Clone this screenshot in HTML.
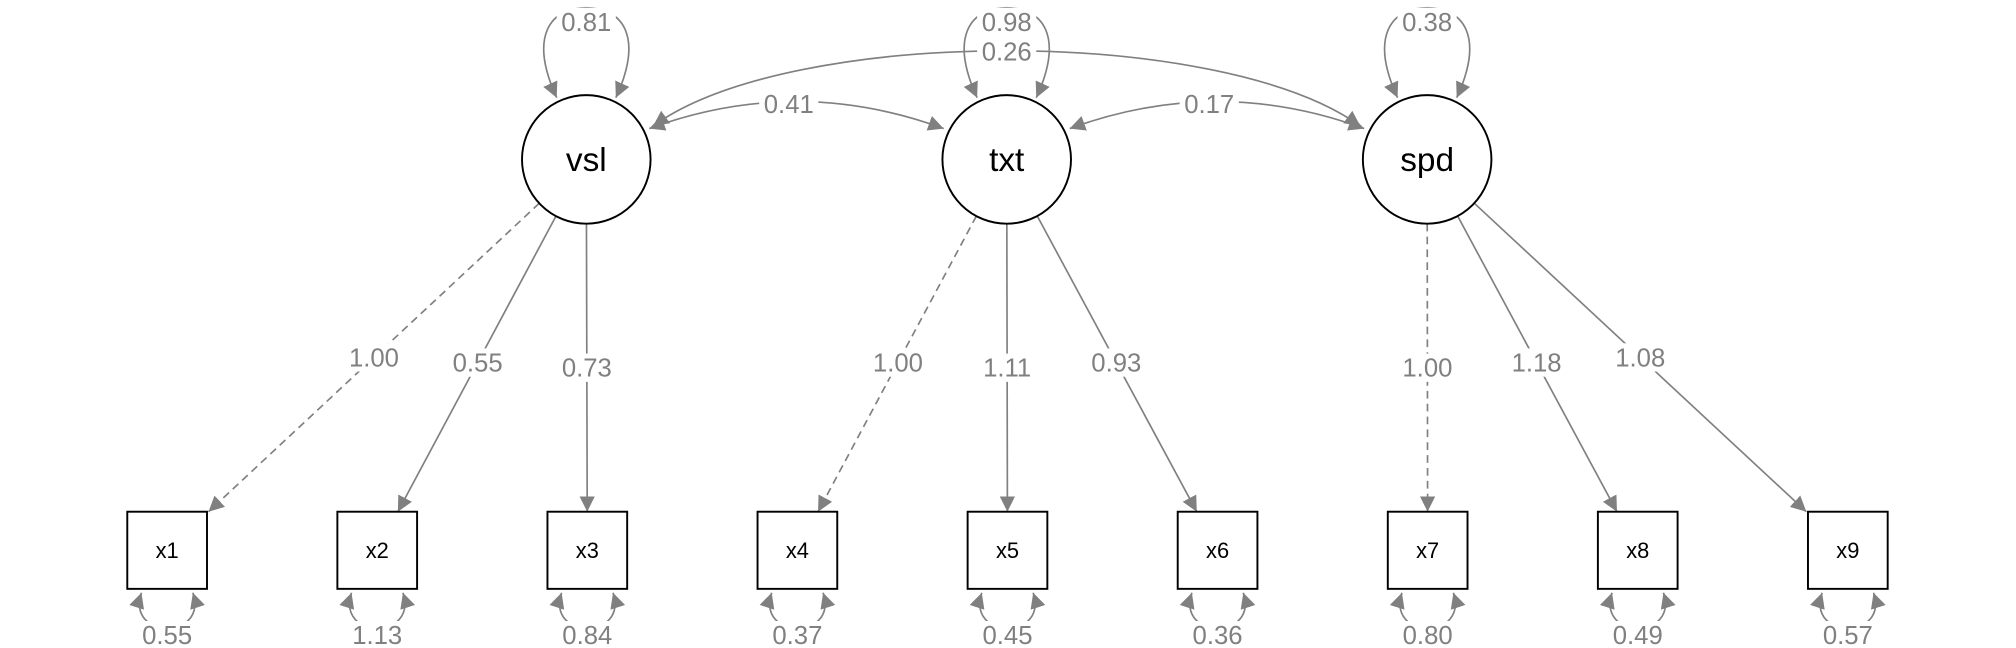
<!DOCTYPE html>
<html><head><meta charset="utf-8"><style>
html,body{margin:0;padding:0;background:#fff;}
svg{display:block;}
text{font-family:"Liberation Sans",sans-serif;}
</style></head><body>
<svg id="chart" width="2016" height="648" viewBox="0 0 1568 504" preserveAspectRatio="none" xmlns="http://www.w3.org/2000/svg">
<defs>
<marker id="ah" viewBox="0 0 10 10" refX="10" refY="5" markerWidth="12" markerHeight="14" markerUnits="userSpaceOnUse" orient="auto-start-reverse">
<path d="M0,0 L10,5 L0,10 z" fill="#808080"/>
</marker>
</defs>
<g id="edges"></g>
<g id="nodes"></g>
<g id="labels"></g>
</svg>
<script>
const latents = ['vsl','txt','spd'];
const latentVar = [0.81, 0.98, 0.38];
const indicators = ['x1','x2','x3','x4','x5','x6','x7','x8','x9'];
const loadings = [1.00,0.55,0.73,1.00,1.11,0.93,1.00,1.18,1.08];
const residuals = [0.55,1.13,0.84,0.37,0.45,0.36,0.80,0.49,0.57];
const covPairs = [[0,1],[1,2],[0,2]];
const covValues = [0.41,0.17,0.26];

const NS='http://www.w3.org/2000/svg';
const eG=document.getElementById('edges'), nG=document.getElementById('nodes'), lG=document.getElementById('labels');
const R=50, BW=62, BH=60, LY=124, BY=428;
const lx=i=>456+i*327;
const bx=j=>130+j*163.4;
function mk(tag,attrs,parent){const e=document.createElementNS(NS,tag);for(const k in attrs)e.setAttribute(k,attrs[k]);parent.appendChild(e);return e;}
function label(x,y,t,parent,name){
  const bg=mk('rect',{x:x-23,y:y-11,width:46,height:22,fill:'#fff'},parent);
  
  
  const tx=mk('text',{x:x,y:y+7,'text-anchor':'middle','font-size':20,fill:'#808080'},parent);
  tx.textContent=t;
  
  
}
// loadings
indicators.forEach((ind,j)=>{
  const li=Math.floor(j/3);
  const cx=lx(li), cy=LY, tx=bx(j), ty=BY;
  const dx=tx-cx, dy=ty-cy, L=Math.hypot(dx,dy);
  const sx=cx+dx/L*R, sy=cy+dy/L*R;
  const t=(ty-BH/2-cy)/dy;
  const ex=cx+dx*t, ey=ty-BH/2;
  const p=mk('line',{x1:sx,y1:sy,x2:ex,y2:ey,stroke:'#808080','stroke-width':1.3,'marker-end':'url(#ah)'},eG);
  if(j%3===0)p.setAttribute('stroke-dasharray','6,4');
  
  
  const lt=0.56+ (j%3===1?0.02:0) ;
  const ly=j%3===0?(j===6?286:(j===0?278:282)):(j%3===1?(j===7?282:(j===4?286:282)):(j===2?286:(j===5?282:278)));
  const fx=cx+dx*((ly-cy)/dy);
  label(fx,ly,loadings[j].toFixed(2),lG,'loading-label-'+ind);
  // residual loop
  const b=bx(j);
  const rp=mk('path',{d:`M${b-20},${BY+BH/2+3} C${b-32},${BY+70} ${b+32},${BY+70} ${b+20},${BY+BH/2+3}`,fill:'none',stroke:'#808080','stroke-width':1.3,'marker-start':'url(#ah)','marker-end':'url(#ah)'},eG);
  
  
  label(b,494,residuals[j].toFixed(2),lG,'residual-label-'+ind);
  const r=mk('rect',{x:b-BW/2,y:BY-BH/2,width:BW,height:BH,fill:'#fff',stroke:'#000','stroke-width':1.5},nG);
  
  
  const tt=mk('text',{x:b,y:BY+6,'text-anchor':'middle','font-size':17,fill:'#000'},nG);
  tt.textContent=ind;
  
  
});
// latent variance loops
latents.forEach((lat,i)=>{
  const c=lx(i);
  const p=mk('path',{d:`M${c-23},${LY-R+2} C${c-45},${28} ${c-28},${6} ${c},${6} C${c+28},${6} ${c+45},${28} ${c+23},${LY-R+2}`,fill:'none',stroke:'#808080','stroke-width':1.3,'marker-start':'url(#ah)','marker-end':'url(#ah)'},eG);
  
  
  label(c,17,latentVar[i].toFixed(2),lG,'variance-label-'+lat);
});
// covariances
covPairs.forEach((pr,k)=>{
  const a=lx(pr[0]), b=lx(pr[1]);
  let d, lxp, lyp;
  if(pr[1]-pr[0]===1){
    d=`M${a+R-1},${LY-24} Q${(a+b)/2},${58} ${b-R+1},${LY-24}`;
    lxp=(a+b)/2-6; lyp=81;
  } else {
    d=`M${a+R+2},${LY-26} C${a+160},${20} ${b-160},${20} ${b-R-2},${LY-26}`;
    lxp=(a+b)/2; lyp=40;
  }
  const p=mk('path',{d:d,fill:'none',stroke:'#808080','stroke-width':1.3,'marker-start':'url(#ah)','marker-end':'url(#ah)'},eG);
  
  
  label(lxp,lyp,covValues[k].toFixed(2),lG,'covariance-label-'+latents[pr[0]]+'-'+latents[pr[1]]);
});
latents.forEach((lat,i)=>{
  const c=mk('circle',{cx:lx(i),cy:LY,r:R,fill:'#fff',stroke:'#000','stroke-width':1.5},nG);
  
  
  const t=mk('text',{x:lx(i),y:LY+9,'text-anchor':'middle','font-size':26,fill:'#000'},nG);
  t.textContent=lat;
  
  
});
</script>
</body></html>
